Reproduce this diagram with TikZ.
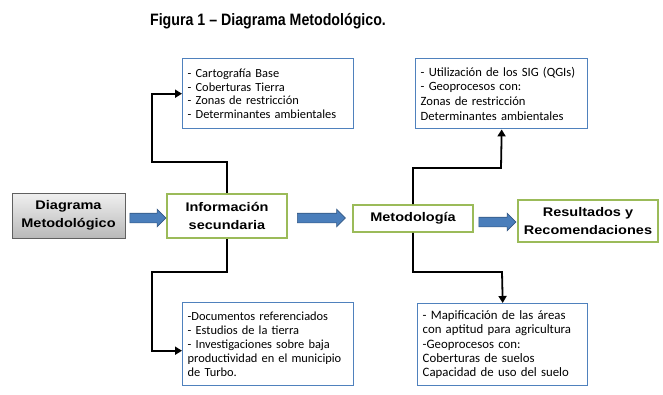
\documentclass[tikz,border=0pt]{standalone}
\usepackage{fontspec}
\setmainfont{Liberation Sans}
\newfontfamily\calfont{Carlito}
\newfontfamily\widebold{Liberation Sans}[FakeStretch=1.16]
\newfontfamily\titlefont{Liberation Sans}[FakeStretch=0.86]
\usetikzlibrary{arrows.meta,shapes.arrows,shadows}
\definecolor{boxblue}{HTML}{4F81BD}
\definecolor{boxgreen}{HTML}{9BBB59}
\definecolor{arrowblue}{HTML}{4A7EBB}
\begin{document}
\begin{tikzpicture}[x=1pt,y=-1pt,
  mainbox/.style={draw=boxgreen,line width=1.6pt,fill=white,align=center,
    font=\widebold\fontsize{12.5}{18}\selectfont\bfseries,inner sep=2pt},
  listbox/.style={draw=boxblue,line width=1.4pt,fill=white,anchor=north west,
    align=left,inner xsep=5pt,inner ysep=2pt},
  conn/.style={line width=1.8pt,black},
  connarrow/.style={conn,-{Triangle[length=7pt,width=8pt]}},
  bluearrow/.style={single arrow,draw=arrowblue!70!black,fill=arrowblue,
    line width=0.6pt,single arrow head extend=4pt,
    single arrow tip angle=90,inner xsep=0pt,inner ysep=4.5pt,
    minimum height=#1,minimum width=17pt},
]
\useasboundingbox (0,0) rectangle (663,394);

\node[font=\titlefont\fontsize{16.5}{19}\selectfont\bfseries] (title) at (268,21) {Figura 1 – Diagrama Metodológico.};

\node[draw=gray!75!black,line width=0.8pt,top color=gray!12,bottom color=gray!55,
  drop shadow={shadow xshift=1.2pt,shadow yshift=-1.2pt,opacity=0.35},
  align=center,font=\widebold\fontsize{12.5}{18}\selectfont\bfseries,
  minimum width=113pt,minimum height=45pt,inner sep=2pt] (diag) at (68.5,215.5)
  {Diagrama\\Metodológico};

\node[mainbox,minimum width=120pt,minimum height=44pt] (info) at (227,216)
  {Información\\secundaria};
\node[mainbox,minimum width=120pt,minimum height=27pt] (meto) at (413,218.5)
  {Metodología};
\node[mainbox,minimum width=140pt,minimum height=42pt] (res) at (588,221)
  {Resultados y\\Recomendaciones};

\node[listbox,text width=161pt,minimum height=70pt,
  font=\calfont\fontsize{12.4}{13.6}\selectfont] (tl) at (182,58)
  {- Cartografía Base\\- Coberturas Tierra\\- Zonas de restricción\\- Determinantes ambientales};
\node[listbox,text width=162pt,minimum height=70pt,
  font=\calfont\fontsize{12.6}{14.7}\selectfont] (tr) at (415,58)
  {- Utilización de los SIG (QGIs)\\- Geoprocesos con:\\Zonas de restricción\\Determinantes ambientales};
\node[listbox,text width=161pt,minimum height=83pt,
  font=\calfont\fontsize{12.4}{13.8}\selectfont] (bl) at (182,302)
  {-Documentos referenciados\\- Estudios de la tierra\\- Investigaciones sobre baja\\productividad en el municipio\\de Turbo.};
\node[listbox,text width=160pt,minimum height=82pt,
  font=\calfont\fontsize{12.8}{14.3}\selectfont] (br) at (417,303)
  {- Mapificación de las áreas\\con aptitud para agricultura\\-Geoprocesos con:\\Coberturas de suelos\\Capacidad de uso del suelo};

% blue block arrows
\node[bluearrow=36pt] (a1) at (145.5,218) {};
\node[bluearrow=48pt] (a2) at (319,218) {};
\node[bluearrow=37pt] (a3) at (495,222) {};

% connectors
\coordinate (k1) at (152,162);
\coordinate (k2) at (152,272);
\coordinate (k3) at (501,168);
\coordinate (k4) at (502,272);
\draw[connarrow] (info.north) |- (k1) |- (tl.west);
\draw[connarrow] (info.south) |- (k2) |- ([yshift=-6.5pt]bl.west);
\draw[connarrow] (meto.north) |- (k3) -- (tr.south);
\draw[connarrow] (meto.south) |- (k4) -- (br.north);
\end{tikzpicture}
\end{document}
